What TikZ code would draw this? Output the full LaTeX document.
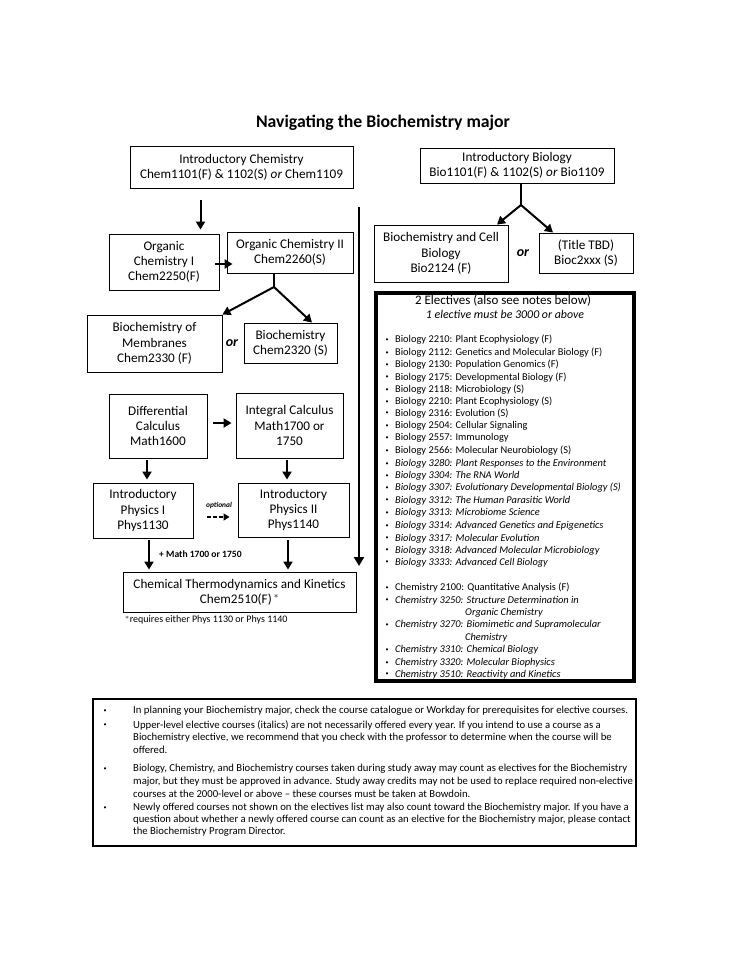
\documentclass[tikz,border=0pt]{standalone}
\usepackage{fontspec}
\setmainfont{Carlito}
\usetikzlibrary{arrows.meta,calc}
\newcommand\bxf{\fontsize{13.2}{15.2}\selectfont}
\newcommand\lsf{\fontsize{10.4}{11}\selectfont}
\newcommand\nsf{\fontsize{10.7}{11}\selectfont}
\tikzset{
  box/.style={draw, line width=0.9pt, align=center, inner sep=0pt, font=\bxf},
  arr/.style={line width=2pt, -{Triangle[length=8pt,width=9pt]}},
  branch/.style={line width=2.4pt},
  litem/.style={anchor=west, inner sep=0pt, font=\lsf},
  lbul/.style={anchor=center, inner sep=0pt, font=\fontsize{6}{6}\selectfont},
  note/.style={anchor=west, inner sep=0pt, font=\nsf},
}
\begin{document}
\begin{tikzpicture}[x=1pt,y=-1pt]
\useasboundingbox[fill=white] (0,0) rectangle (740,958);

\node[font=\bfseries\fontsize{17.7}{20}\selectfont] (title) at (383,122.5) {Navigating the Biochemistry major};

% chemistry column
\node[box, minimum width=223pt, minimum height=42pt] (ichem) at (241.5,167) {Introductory Chemistry\\Chem1101(F) \& 1102(S) \emph{or} Chem1109};
\node[box, minimum width=110pt, minimum height=56pt] (orgI) at (164,262) {Organic\\Chemistry I\\Chem2250(F)};
\node[box, minimum width=126pt, minimum height=41pt] (orgII) at (290,252.5) {Organic Chemistry II\\Chem2260(S)};
\node[box, minimum width=135pt, minimum height=57pt] (memb) at (154.5,343.5) {Biochemistry of\\Membranes\\Chem2330 (F)};
\node[font=\bfseries\itshape\fontsize{14}{14}\selectfont] (or1) at (232,343) {or};
\node[box, minimum width=93pt, minimum height=40pt] (bchem) at (290.5,343) {Biochemistry\\Chem2320 (S)};

\node[box, minimum width=98pt, minimum height=64pt] (diff) at (158,426) {Differential\\Calculus\\Math1600};
\node[box, minimum width=107pt, minimum height=65pt] (integ) at (289.5,425.5) {Integral Calculus\\Math1700 or\\1750};
\node[box, minimum width=100pt, minimum height=55pt] (phys1) at (143,510.5) {Introductory\\Physics I\\Phys1130};
\node[box, minimum width=111pt, minimum height=54pt] (phys2) at (293.5,510) {Introductory\\Physics II\\Phys1140};
\node[box, minimum width=233pt, minimum height=40pt] (thermo) at (239.5,592) {Chemical Thermodynamics and Kinetics\\Chem2510(F)\,$^{*}$};
\node[anchor=west, inner sep=0pt, font=\fontsize{10}{10}\selectfont] (foot) at (125,620) {$^{*}$requires either Phys 1130 or Phys 1140};
\node[anchor=west, inner sep=0pt, font=\bfseries\fontsize{9.6}{10}\selectfont] (plusmath) at (159,554) {+ Math 1700 or 1750};
\node[inner sep=0pt, font=\bfseries\itshape\fontsize{7.4}{8}\selectfont] (opt) at (219,505) {optional};

% arrows chemistry column
\draw[arr, shorten >=4pt] ([xshift=-41pt,yshift=-12pt]ichem.south) -- ([xshift=-41pt]ichem.south |- orgI.north);
\draw[arr] ([xshift=-4pt,yshift=-2pt]orgI.east) -- ([xshift=6pt,yshift=-2pt]orgI.east -| orgII.west);
\coordinate (j1) at (274,287);
\draw[branch] (orgII.south -| j1) -- (j1);
\draw[arr] (j1) -- (memb.north east);
\draw[arr] (j1) -- ([xshift=21.5pt]bchem.north);

\draw[arr] ([xshift=6pt,yshift=3pt]diff.east) -- ([xshift=-4pt,yshift=3pt]diff.east -| integ.west);
\draw[arr, shorten >=3pt] ([xshift=-11pt,yshift=-2pt]diff.south) -- ([xshift=-11pt]diff.south |- phys1.north);
\draw[arr, shorten >=3pt] ([xshift=-2.5pt,yshift=-2pt]integ.south) -- ([xshift=-2.5pt]integ.south |- phys2.north);
\draw[line width=1.6pt, dashed, dash pattern=on 3.5pt off 2.5pt, -{Triangle[length=6pt,width=7pt]}] ([xshift=14pt,yshift=-6.5pt]phys1.east) -- ([xshift=-8pt,yshift=-6.5pt]phys1.east -| phys2.west);
\draw[arr, shorten >=2pt] ([xshift=6pt,yshift=-2pt]phys1.south) -- ([xshift=6pt]phys1.south |- thermo.north);
\draw[arr, shorten >=2pt] ([xshift=-5.5pt,yshift=-3pt]phys2.south) -- ([xshift=-5.5pt]phys2.south |- thermo.north);

\coordinate (vtop) at (359,207);
\coordinate (vbot) at (359,566);
\draw[line width=2.4pt, -{Triangle[length=9pt,width=10pt]}] (vtop) -- (vbot);

% biology column
\node[box, minimum width=194pt, minimum height=35pt] (ibio) at (517,165.5) {Introductory Biology\\Bio1101(F) \& 1102(S) \emph{or} Bio1109};
\node[box, minimum width=134pt, minimum height=57pt] (bcell) at (441,253.5) {Biochemistry and Cell\\Biology\\Bio2124 (F)};
\node[font=\bfseries\itshape\fontsize{14}{14}\selectfont] (or2) at (523,253) {or};
\node[box, minimum width=94pt, minimum height=40pt] (tbd) at (586,253) {(Title TBD)\\Bioc2xxx (S)};
\coordinate (j2) at (521,205);
\draw[branch] (ibio.south -| j2) -- (j2);
\draw[arr] (j2) -- ([xshift=56pt]bcell.north);
\draw[arr] (j2) -- ([xshift=-33pt]tbd.north);

% electives
\node[draw, line width=3.8pt, minimum width=258pt, minimum height=388pt, inner sep=0pt] (elect) at (505,487) {};
\node[font=\fontsize{13}{14}\selectfont, inner sep=0pt, anchor=base] (eh1) at (503,304.5) {2 Electives (also see notes below)};
\node[font=\itshape\fontsize{11.9}{13}\selectfont, inner sep=0pt, anchor=base] (eh2) at (505,318) {1 elective must be 3000 or above};

\foreach \y/\t/\s [count=\i] in {
 340/{Biology 2210: Plant Ecophysiology (F)}/\upshape,
 353/{Biology 2112: Genetics and Molecular Biology (F)}/\upshape,
 365/{Biology 2130: Population Genomics (F)}/\upshape,
 377.5/{Biology 2175: Developmental Biology (F)}/\upshape,
 390/{Biology 2118: Microbiology (S)}/\upshape,
 402/{Biology 2210: Plant Ecophysiology (S)}/\upshape,
 413.5/{Biology 2316: Evolution (S)}/\upshape,
 426/{Biology 2504: Cellular Signaling}/\upshape,
 438/{Biology 2557: Immunology}/\upshape,
 451/{Biology 2566: Molecular Neurobiology (S)}/\upshape,
 464/{Biology 3280: Plant Responses to the Environment}/\itshape,
 476/{Biology 3304: The RNA World}/\itshape,
 488/{Biology 3307: Evolutionary Developmental Biology (S)}/\itshape,
 500.5/{Biology 3312: The Human Parasitic World}/\itshape,
 513/{Biology 3313: Microbiome Science}/\itshape,
 526/{Biology 3314: Advanced Genetics and Epigenetics}/\itshape,
 538.5/{Biology 3317: Molecular Evolution}/\itshape,
 550.5/{Biology 3318: Advanced Molecular Microbiology}/\itshape,
 562.5/{Biology 3333: Advanced Cell Biology}/\itshape,
 588/{Chemistry 2100: Quantitative Analysis (F)}/\upshape,
 600.5/{Chemistry 3250: Structure Determination in}/\itshape,
 625/{Chemistry 3270: Biomimetic and Supramolecular}/\itshape,
 650/{Chemistry 3310: Chemical Biology}/\itshape,
 663/{Chemistry 3320: Molecular Biophysics}/\itshape,
 674.5/{Chemistry 3510: Reactivity and Kinetics}/\itshape}
{
  \node[lbul] (b\i) at (387,\y) {•};
  \node[litem] (e\i) at (395,\y) {\s \t};
}
\node[litem, font=\itshape\lsf] (c1) at (465,613) {Organic Chemistry};
\node[litem, font=\itshape\lsf] (c2) at (465,637.5) {Chemistry};

% notes
\node[draw, line width=1.4pt, minimum width=543pt, minimum height=147pt, inner sep=0pt] (notes) at (364.5,772.5) {};
\foreach \y [count=\i] in {710.7,725,769,807.7}{
  \node[lbul] (nb\i) at (105,\y) {•};
}
\foreach \y/\t [count=\i] in {
 710.7/{In planning your Biochemistry major, check the course catalogue or Workday for prerequisites for elective courses.},
 725/{Upper-level elective courses (italics) are not necessarily offered every year. If you intend to use a course as a},
 737.5/{Biochemistry elective, we recommend that you check with the professor to determine when the course will be},
 750/{offered.},
 769/{Biology, Chemistry, and Biochemistry courses taken during study away may count as electives for the Biochemistry},
 781.5/{major, but they must be approved in advance. Study away credits may not be used to replace required non-elective},
 793.5/{courses at the 2000-level or above – these courses must be taken at Bowdoin.},
 807.7/{Newly offered courses not shown on the electives list may also count toward the Biochemistry major. If you have a},
 820/{question about whether a newly offered course can count as an elective for the Biochemistry major, please contact},
 832/{the Biochemistry Program Director.}}
{
  \node[note] (n\i) at (133,\y) {\t};
}
\end{tikzpicture}
\end{document}
